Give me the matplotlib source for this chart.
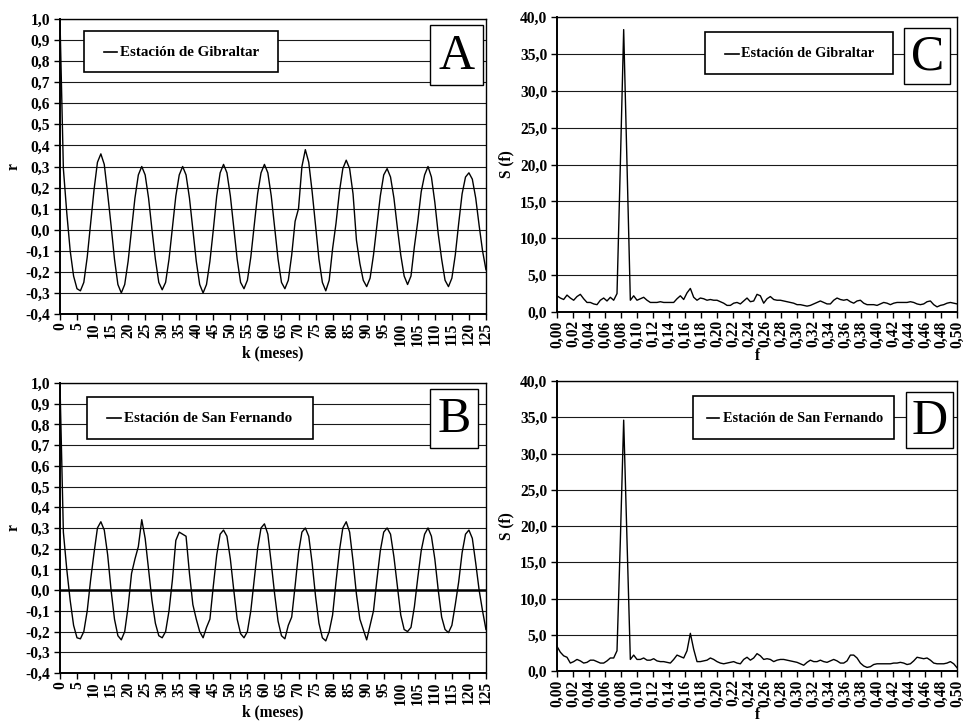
import numpy as np
import matplotlib
matplotlib.use("Agg")
import matplotlib.pyplot as plt
from matplotlib.patches import Rectangle
from matplotlib.lines import Line2D
from matplotlib.ticker import FuncFormatter

plt.rcParams['font.family'] = ['Liberation Serif', 'DejaVu Serif']

# autocorrelation r(k), lags 0..125 months
lag = np.arange(0, 126)
r_gib = [1.0, 0.29, 0.08, -0.10, -0.22, -0.28,
         -0.29, -0.25, -0.13, 0.03, 0.19, 0.32,
         0.36, 0.31, 0.17, 0.02, -0.14, -0.26,
         -0.30, -0.26, -0.15, 0.00, 0.15, 0.26,
         0.30, 0.26, 0.15, 0.00, -0.14, -0.25,
         -0.285, -0.25, -0.14, 0.01, 0.16, 0.26,
         0.30, 0.26, 0.15, 0.00, -0.15, -0.26,
         -0.30, -0.26, -0.15, 0.00, 0.16, 0.27,
         0.31, 0.27, 0.16, 0.01, -0.14, -0.25,
         -0.28, -0.24, -0.13, 0.02, 0.17, 0.27,
         0.31, 0.27, 0.16, 0.01, -0.14, -0.25,
         -0.28, -0.24, -0.12, 0.04, 0.10, 0.30,
         0.38, 0.32, 0.18, 0.02, -0.14, -0.25,
         -0.29, -0.24, -0.09, 0.03, 0.18, 0.29,
         0.33, 0.29, 0.17, -0.05, -0.16, -0.24,
         -0.27, -0.23, -0.12, 0.02, 0.16, 0.26,
         0.29, 0.25, 0.15, 0.01, -0.12, -0.22,
         -0.26, -0.22, -0.08, 0.04, 0.18, 0.26,
         0.30, 0.25, 0.13, -0.02, -0.14, -0.24,
         -0.27, -0.23, -0.12, 0.03, 0.17, 0.25,
         0.27, 0.24, 0.15, 0.02, -0.10, -0.19]
r_sfe = [1.0, 0.28, 0.10, -0.05, -0.17, -0.23,
         -0.235, -0.20, -0.10, 0.05, 0.18, 0.30,
         0.33, 0.29, 0.17, 0.00, -0.14, -0.22,
         -0.24, -0.20, -0.08, 0.08, 0.15, 0.21,
         0.34, 0.25, 0.10, -0.05, -0.16, -0.22,
         -0.23, -0.20, -0.10, 0.05, 0.24, 0.28,
         0.27, 0.26, 0.08, -0.07, -0.14, -0.20,
         -0.23, -0.18, -0.14, 0.02, 0.17, 0.27,
         0.29, 0.26, 0.15, 0.00, -0.14, -0.21,
         -0.23, -0.20, -0.10, 0.05, 0.20, 0.30,
         0.32, 0.27, 0.13, -0.02, -0.15, -0.22,
         -0.235, -0.17, -0.13, 0.02, 0.18, 0.28,
         0.30, 0.26, 0.13, -0.03, -0.16, -0.23,
         -0.245, -0.20, -0.12, 0.04, 0.19, 0.30,
         0.33, 0.28, 0.14, -0.02, -0.14, -0.19,
         -0.24, -0.17, -0.10, 0.05, 0.19, 0.28,
         0.30, 0.27, 0.16, 0.02, -0.12, -0.19,
         -0.20, -0.18, -0.08, 0.06, 0.19, 0.27,
         0.30, 0.26, 0.15, 0.00, -0.13, -0.19,
         -0.205, -0.17, -0.07, 0.04, 0.18, 0.27,
         0.29, 0.25, 0.13, 0.00, -0.10, -0.19]

# spectral density S(f), f = 0..0.5 in steps of 1/240
freq = np.arange(0, 121) / 240
s_gib = [2.2, 1.9, 1.7, 2.3, 1.9, 1.6, 2.1, 2.4, 1.8, 1.3,
         1.3, 1.1, 1.0, 1.6, 1.9, 1.5, 2.0, 1.6, 2.5, 20.0,
         38.3, 20.0, 1.6, 2.2, 1.6, 1.8, 2.0, 1.6, 1.3, 1.3,
         1.3, 1.4, 1.3, 1.3, 1.3, 1.3, 1.8, 2.2, 1.7, 2.6,
         3.2, 2.0, 1.6, 1.9, 1.8, 1.6, 1.7, 1.6, 1.6, 1.4,
         1.2, 0.9, 0.9, 1.2, 1.3, 1.1, 1.5, 1.9, 1.4, 1.5,
         2.4, 2.2, 1.2, 1.8, 2.1, 1.7, 1.6, 1.6, 1.5, 1.4,
         1.3, 1.2, 1.0, 1.0, 0.9, 0.8, 0.9, 1.1, 1.3, 1.5,
         1.3, 1.1, 1.1, 1.6, 1.9, 1.7, 1.6, 1.7, 1.4, 1.2,
         1.5, 1.6, 1.2, 1.0, 1.0, 1.0, 0.9, 1.1, 1.3, 1.2,
         1.0, 1.2, 1.3, 1.3, 1.3, 1.3, 1.4, 1.3, 1.1, 1.0,
         1.1, 1.4, 1.5, 1.0, 0.7, 0.9, 1.0, 1.2, 1.3, 1.2,
         1.1]
s_sfe = [3.4, 2.6, 2.1, 1.9, 1.1, 1.3, 1.6, 1.4, 1.1, 1.2,
         1.5, 1.5, 1.3, 1.1, 1.1, 1.4, 1.8, 1.8, 2.8, 18.0,
         34.6, 18.0, 1.6, 2.2, 1.6, 1.6, 1.8, 1.5, 1.5, 1.7,
         1.4, 1.3, 1.3, 1.2, 1.1, 1.6, 2.2, 2.0, 1.8, 2.8,
         5.2, 3.0, 1.3, 1.3, 1.4, 1.5, 1.8, 1.6, 1.3, 1.1,
         1.0, 1.1, 1.2, 1.3, 1.1, 1.0, 1.6, 1.9, 1.5, 1.8,
         2.4, 2.1, 1.6, 1.7, 1.6, 1.3, 1.5, 1.6, 1.6, 1.5,
         1.4, 1.3, 1.2, 1.0, 0.8, 1.2, 1.5, 1.3, 1.3, 1.5,
         1.3, 1.2, 1.4, 1.6, 1.4, 1.1, 1.1, 1.4, 2.2, 2.2,
         1.8, 1.1, 0.7, 0.5, 0.6, 0.9, 1.0, 1.0, 1.0, 1.0,
         1.0, 1.1, 1.1, 1.2, 1.1, 0.9, 1.0, 1.4, 1.9, 1.8,
         1.7, 1.8, 1.5, 1.1, 1.0, 1.0, 1.0, 1.1, 1.3, 1.0,
         0.45]

FS = 11.2


def frame(ax):
    ax.set_axisbelow(True)
    ax.yaxis.grid(True, color='#1a1a1a', lw=0.8)
    for s in ['top', 'right']:
        ax.spines[s].set_linewidth(1.0)
    for s in ['left', 'bottom']:
        ax.spines[s].set_linewidth(1.4)
    ax.tick_params(direction='out', length=4, width=1.0, labelsize=FS)
    ax.tick_params(axis='x', pad=2)
    ax.tick_params(axis='y', pad=3)
    for lb in ax.get_xticklabels() + ax.get_yticklabels():
        lb.set_fontweight('bold')
    for lb in ax.get_xticklabels():
        lb.set_rotation(90)


def legend_box(ax, box, line, ty, label, fs):
    x0, y0, x1, y1 = box
    ax.add_patch(Rectangle((x0, y0), x1 - x0, y1 - y0, transform=ax.transAxes,
                           facecolor='white', edgecolor='k', lw=1.2, zorder=5, clip_on=False))
    ax.add_line(Line2D([line[0], line[1]], [ty, ty], transform=ax.transAxes,
                       color='k', lw=1.2, zorder=6))
    ax.text(line[2], ty, label, transform=ax.transAxes, fontsize=fs, fontweight='bold',
            va='center', ha='left', zorder=6)


def letter_box(ax, box, letter):
    x0, y0, x1, y1 = box
    ax.add_patch(Rectangle((x0, y0), x1 - x0, y1 - y0, transform=ax.transAxes,
                           facecolor='white', edgecolor='k', lw=1.0, zorder=5, clip_on=False))
    ax.text((x0 + x1) / 2, (y0 + y1) / 2 - 0.005, letter, transform=ax.transAxes,
            fontsize=36, ha='center', va='center', zorder=6)


fig = plt.figure(figsize=(9.64, 7.26), dpi=100)
axA = fig.add_axes([0.0622, 0.5675, 0.4419, 0.4063])
axC = fig.add_axes([0.5778, 0.5702, 0.4150, 0.4063])
axB = fig.add_axes([0.0622, 0.0730, 0.4419, 0.3995])
axD = fig.add_axes([0.5778, 0.0757, 0.4150, 0.3995])

for ax, r in [(axA, r_gib), (axB, r_sfe)]:
    ax.plot(lag, r, color='k', lw=1.0)
    ax.set_xlim(0, 125)
    ax.set_ylim(-0.4, 1.0)
    ax.set_xticks(np.arange(0, 126, 5))
    ax.set_yticks(np.round(np.arange(-0.4, 1.01, 0.1), 1))
    ax.xaxis.set_major_formatter(FuncFormatter(lambda v, p: '%d' % v))
    ax.yaxis.set_major_formatter(FuncFormatter(lambda v, p: ('%.1f' % (v + 0.0)).replace('.', ',').replace('-0,0', '0,0')))
    ax.set_xlabel('k (meses)', fontsize=FS, fontweight='bold', labelpad=0)
    ax.set_ylabel('r', fontsize=FS, fontweight='bold', labelpad=3)
    frame(ax)

axB.axhline(0, color='k', lw=1.8, zorder=1.5)

for ax, s in [(axC, s_gib), (axD, s_sfe)]:
    ax.plot(freq, s, color='k', lw=1.0)
    ax.set_xlim(0, 0.5)
    ax.set_ylim(0, 40)
    ax.set_xticks(np.round(np.arange(0, 0.501, 0.02), 2))
    ax.set_yticks(np.arange(0, 40.1, 5))
    ax.xaxis.set_major_formatter(FuncFormatter(lambda v, p: ('%.2f' % v).replace('.', ',')))
    ax.yaxis.set_major_formatter(FuncFormatter(lambda v, p: ('%.1f' % v).replace('.', ',')))
    ax.set_xlabel('f', fontsize=FS, fontweight='bold', labelpad=0.5)
    ax.set_ylabel('S (f)', fontsize=FS, fontweight='bold', labelpad=4)
    frame(ax)

legend_box(axA, (0.0563, 0.820, 0.512, 0.959), (0.103, 0.134, 0.141), 0.888,
           'Estación de Gibraltar', 10.8)
letter_box(axA, (0.8685, 0.776, 0.993, 0.980), 'A')

legend_box(axB, (0.063, 0.806, 0.594, 0.952), (0.110, 0.143, 0.150), 0.878,
           'Estación de San Fernando', 10.8)
letter_box(axB, (0.8685, 0.776, 0.981, 0.980), 'B')

legend_box(axC, (0.369, 0.807, 0.840, 0.949), (0.421, 0.454, 0.461), 0.875,
           'Estación de Gibraltar', 10.3)
letter_box(axC, (0.868, 0.773, 0.9825, 0.963), 'C')

legend_box(axD, (0.339, 0.800, 0.843, 0.949), (0.374, 0.404, 0.414), 0.871,
           'Estación de San Fernando', 10.3)
letter_box(axD, (0.873, 0.769, 0.990, 0.963), 'D')

fig.savefig('out.png', dpi=100)
